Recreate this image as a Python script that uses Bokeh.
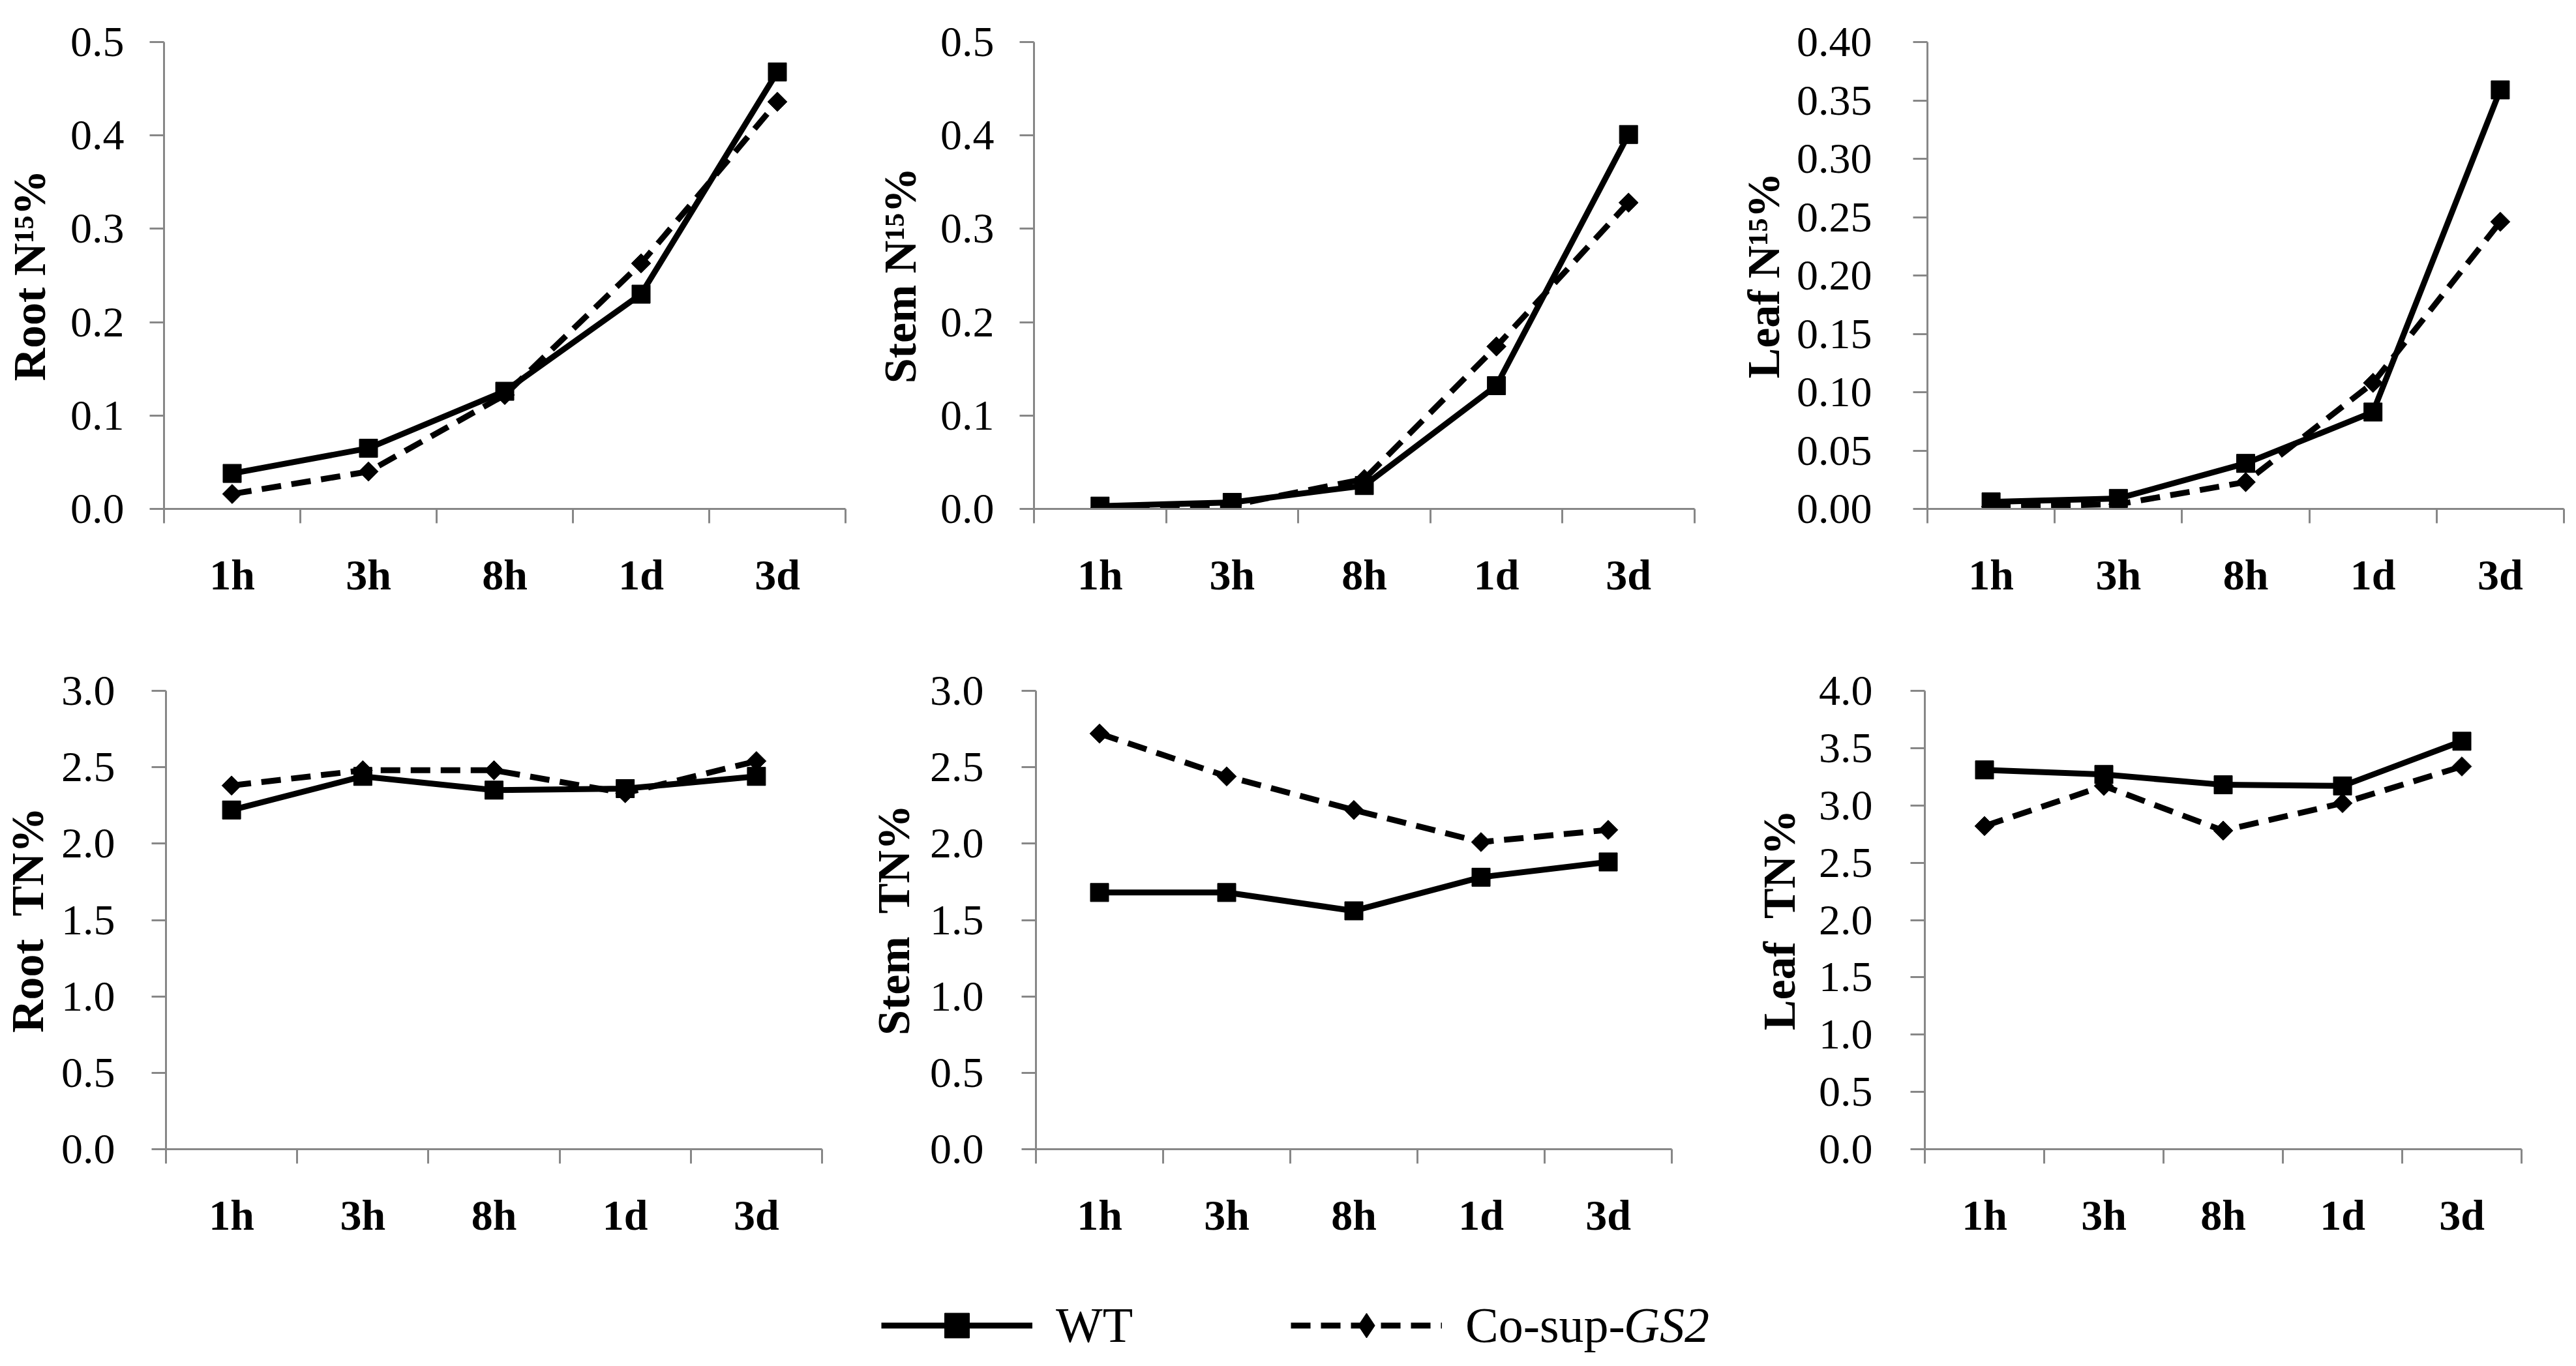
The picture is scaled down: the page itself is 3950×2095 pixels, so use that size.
import numpy as np
from bokeh.plotting import figure
from bokeh.models import Range1d, FixedTicker, PrintfTickFormatter, Legend, LegendItem
from bokeh.layouts import column, row
from bokeh.embed import file_html
from bokeh.resources import INLINE

# ---------------- data ----------------
categories = ["1h", "3h", "8h", "1d", "3d"]

root_n15_wt = [0.038, 0.065, 0.126, 0.230, 0.468]
root_n15_co = [0.016, 0.040, 0.122, 0.263, 0.436]
stem_n15_wt = [0.003, 0.007, 0.025, 0.132, 0.401]
stem_n15_co = [0.001, 0.004, 0.032, 0.174, 0.328]
leaf_n15_wt = [0.006, 0.009, 0.039, 0.083, 0.359]
leaf_n15_co = [0.002, 0.004, 0.023, 0.108, 0.246]

root_tn_wt = [2.22, 2.44, 2.35, 2.36, 2.44]
root_tn_co = [2.38, 2.48, 2.48, 2.33, 2.54]
stem_tn_wt = [1.68, 1.68, 1.56, 1.78, 1.88]
stem_tn_co = [2.72, 2.44, 2.22, 2.01, 2.09]
leaf_tn_wt = [3.31, 3.27, 3.18, 3.17, 3.56]
leaf_tn_co = [2.82, 3.17, 2.78, 3.02, 3.34]

series_names = ["WT", "Co-sup-", "GS2"]

SERIF = "Liberation Serif"
GRAY = "#878787"
LW = 9
DASH = "30 16"


def add_series(p, xs, wt, co, co_marker="square", co_angle=np.pi / 4):
    r = {}
    r["wt_line"] = p.line(xs, wt, line_color="black", line_width=LW)
    r["wt_mark"] = p.scatter(xs, wt, marker="square", size=28, color="black")
    r["co_line"] = p.line(xs, co, line_color="black", line_width=LW, line_dash=DASH)
    r["co_mark"] = p.scatter(xs, co, marker=co_marker, angle=co_angle, size=21,
                             color="black")
    return r


def make_panel(ylabel, wt, co, ymax, ystep, fmt, width, height,
               left, right, top, bottom, tick_standoff, title_standoff):
    n = len(categories)
    xs = list(range(1, n + 1))
    p = figure(width=width, height=height, output_backend="svg",
               toolbar_location=None,
               x_range=Range1d(0.5, n + 0.5), y_range=Range1d(0, ymax),
               min_border_left=left, min_border_right=right,
               min_border_top=top, min_border_bottom=bottom)
    p.outline_line_color = None
    p.grid.visible = False
    p.background_fill_color = "white"
    p.border_fill_color = "white"

    add_series(p, xs, wt, co)

    xa = p.xaxis[0]
    xa.ticker = FixedTicker(ticks=xs,
                            minor_ticks=[x - 0.5 for x in xs] + [xs[-1] + 0.5])
    xa.major_label_overrides = {x: c for x, c in zip(xs, categories)}
    xa.major_tick_out = 0
    xa.major_tick_in = 0
    xa.minor_tick_out = 22
    xa.minor_tick_in = 0
    xa.minor_tick_line_color = GRAY
    xa.minor_tick_line_width = 3
    xa.axis_line_color = GRAY
    xa.axis_line_width = 3
    xa.major_label_text_font = SERIF
    xa.major_label_text_font_style = "bold"
    xa.major_label_text_font_size = "66px"
    xa.major_label_text_color = "black"
    xa.major_label_standoff = 42

    nt = int(round(ymax / ystep))
    ya = p.yaxis[0]
    ya.ticker = FixedTicker(ticks=[i * ystep for i in range(nt + 1)], minor_ticks=[])
    ya.formatter = PrintfTickFormatter(format=fmt)
    ya.major_tick_out = 22
    ya.major_tick_in = 0
    ya.minor_tick_out = 0
    ya.minor_tick_in = 0
    ya.major_tick_line_color = GRAY
    ya.major_tick_line_width = 3
    ya.axis_line_color = GRAY
    ya.axis_line_width = 3
    ya.major_label_text_font = SERIF
    ya.major_label_text_font_size = "66px"
    ya.major_label_text_color = "black"
    ya.major_label_standoff = tick_standoff
    ya.axis_label = ylabel
    ya.axis_label_text_font = SERIF
    ya.axis_label_text_font_style = "bold"
    ya.axis_label_text_font_size = "70px"
    ya.axis_label_text_color = "black"
    ya.axis_label_standoff = title_standoff
    return p


H1, H2, HL = 952, 950, 177
W1, W2, W3 = 1322, 1330, 1282

f1 = make_panel("Root N\u00b9\u2075%", root_n15_wt, root_n15_co, 0.5, 0.1, "%.1f",
                W1, H1, 251, 26, 64, 154, 39, 21)
f2 = make_panel("Stem N\u00b9\u2075%", stem_n15_wt, stem_n15_co, 0.5, 0.1, "%.1f",
                W2, H1, 263, 54, 64, 152, 39, 20)
f3 = make_panel("Leaf N\u00b9\u2075%", leaf_n15_wt, leaf_n15_co, 0.40, 0.05, "%.2f",
                W3, H1, 303, 3, 44, 172, 63, 9)

f4 = make_panel("Root \u00a0TN%", root_tn_wt, root_tn_co, 3.0, 0.5, "%.1f",
                W1, H2, 253, 62, 107, 125, 56, 10)
f5 = make_panel("Stem \u00a0TN%", stem_tn_wt, stem_tn_co, 3.0, 0.5, "%.1f",
                W2, H2, 266, 89, 107, 125, 58, 14)
f6 = make_panel("Leaf \u00a0TN%", leaf_tn_wt, leaf_tn_co, 4.0, 0.5, "%.1f",
                W3, H2, 299, 68, 107, 125, 58, 19)

# ---------------- legend strip ----------------
# The strip's view range lies away from the data, so the series only feed the key.
lf = figure(width=W1 + W2 + W3, height=HL, output_backend="svg",
            toolbar_location=None, x_axis_type=None, y_axis_type=None,
            min_border=0, x_range=Range1d(-2, -1), y_range=Range1d(0, 1))
lf.outline_line_color = None
lf.grid.visible = False
rl = add_series(lf, list(range(1, len(categories) + 1)), stem_tn_wt, stem_tn_co,
                co_marker="diamond", co_angle=0)

LEG_FS = "76px"
LEG_Y = -1
common = dict(orientation="horizontal", glyph_height=95,
              label_text_font=SERIF, label_text_font_size=LEG_FS,
              label_text_color="black", label_height=95,
              padding=0, margin=0, border_line_color=None,
              background_fill_alpha=0)
leg1 = Legend(items=[LegendItem(label=series_names[0],
                                renderers=[rl["wt_line"], rl["wt_mark"]])],
              location=(1351, LEG_Y), glyph_width=232, label_standoff=36, **common)
leg2 = Legend(items=[LegendItem(label=series_names[1],
                                renderers=[rl["co_line"], rl["co_mark"]])],
              location=(1979, LEG_Y), glyph_width=232, label_standoff=36, **common)
leg3 = Legend(items=[LegendItem(label=series_names[2], renderers=[rl["co_line"]])],
              location=(2490, LEG_Y), glyph_width=0, label_standoff=0,
              label_text_font_style="italic", **common)
for lg in (leg1, leg2, leg3):
    lf.add_layout(lg)

layout = column(row(f1, f2, f3), row(f4, f5, f6), lf)

open("out.html", "w").write(file_html(layout, INLINE))
